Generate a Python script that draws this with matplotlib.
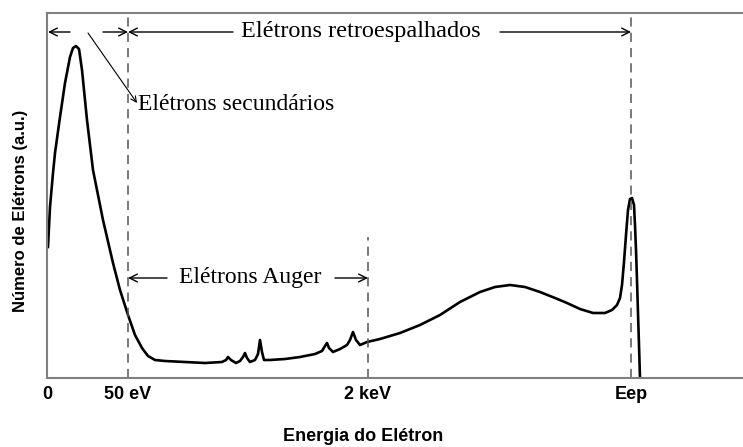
import numpy as np
import matplotlib.pyplot as plt

# energia (u.a.) e número de elétrons (u.a.)
energia = [1, 3, 6, 8, 13, 18, 23, 26, 29, 32,
           35, 40, 46, 56, 66, 73, 81, 88, 95, 101,
           108, 118, 138, 158, 175, 179, 181, 184, 189, 193,
           196, 198, 200, 203, 208, 211, 213, 215, 217, 223,
           238, 253, 268, 275, 278, 280, 282, 286, 293, 300,
           303, 306, 309, 313, 320, 333, 353, 373, 393, 413,
           433, 448, 463, 478, 493, 508, 520, 533, 546, 558,
           565, 570, 573, 575, 577, 579, 581, 583, 585, 587,
           588, 589, 590, 591, 592, 593]
contagem = [131, 171, 205, 225, 261, 295, 321, 330, 332, 329,
            308, 258, 208, 158, 115, 88, 63, 43, 30, 22,
            18, 17, 16, 15, 16, 18, 21, 18, 15, 17,
            21, 25, 20, 16, 18, 24, 38, 26, 18, 18,
            19, 21, 24, 27, 32, 35, 30, 26, 29, 33,
            38, 46, 38, 33, 36, 39, 45, 53, 63, 76,
            86, 91, 93, 91, 86, 80, 75, 69, 65, 65,
            68, 73, 80, 93, 116, 143, 168, 179, 180, 173,
            153, 128, 98, 65, 33, 0]

marcas = [0, 81, 321, 584]
rotulos = ["0", "50 eV", "2 keV", "Eep"]

serif = "Liberation Serif"
sans = "Liberation Sans"

fig = plt.figure(figsize=(7.43, 4.47), dpi=100)
ax = fig.add_axes([47 / 743, 69 / 447, 696 / 743, 365 / 447])

ax.plot(energia, contagem, color="black", lw=1.9, solid_joinstyle="round")

# linhas tracejadas
dash = dict(color="#555555", lw=1.1, ls=(0, (6, 4)))
ax.axvline(marcas[1], **dash)
ax.axvline(marcas[3], **dash)
ax.plot([marcas[2], marcas[2]], [0, 141], **dash)

ax.set_xlim(0, 696)
ax.set_ylim(0, 365)
ax.set_xticks(marcas)
ax.set_xticklabels(rotulos, fontfamily=sans, fontweight="bold", fontsize=13)
ax.set_yticks([])
ax.tick_params(axis="x", length=0, pad=6)

for s in ["left", "bottom", "top"]:
    ax.spines[s].set_color("#808080")
    ax.spines[s].set_linewidth(1.5)
ax.spines["right"].set_visible(False)

ax.set_xlabel("Energia do Elétron", fontfamily=sans, fontweight="bold",
              fontsize=13)
ax.xaxis.set_label_coords(316 / 696, -50 / 365)
ax.set_ylabel("Número de Elétrons (a.u.)", fontfamily=sans,
              fontweight="bold", fontsize=12)
ax.yaxis.set_label_coords(-19 / 696, 167 / 365)

seta = dict(arrowstyle="->", color="black", lw=1.0,
            shrinkA=0, shrinkB=0, mutation_scale=14)
y_topo = 346
ax.annotate("", xy=(1, y_topo), xytext=(23, y_topo), arrowprops=seta)
ax.annotate("", xy=(marcas[1], y_topo), xytext=(56, y_topo), arrowprops=seta)
ax.annotate("", xy=(marcas[1], y_topo), xytext=(186, y_topo), arrowprops=seta)
ax.annotate("", xy=(marcas[3], y_topo), xytext=(453, y_topo), arrowprops=seta)
ax.text(314, y_topo, "Elétrons retroespalhados", fontfamily=serif,
        fontsize=17.5, ha="center", va="center")

ax.annotate("", xy=(90, 275), xytext=(41, 345),
            arrowprops=dict(arrowstyle="->", color="black", lw=0.8,
                            shrinkA=0, shrinkB=0, mutation_scale=10))
ax.text(91, 273, "Elétrons secundários", fontfamily=serif, fontsize=17,
        ha="left", va="center")

y_auger = 100
ax.annotate("", xy=(marcas[1], y_auger), xytext=(120, y_auger), arrowprops=seta)
ax.annotate("", xy=(marcas[2], y_auger), xytext=(288, y_auger), arrowprops=seta)
ax.text(203, y_auger, "Elétrons Auger", fontfamily=serif, fontsize=17,
        ha="center", va="center")

fig.savefig("out.png", dpi=100)
